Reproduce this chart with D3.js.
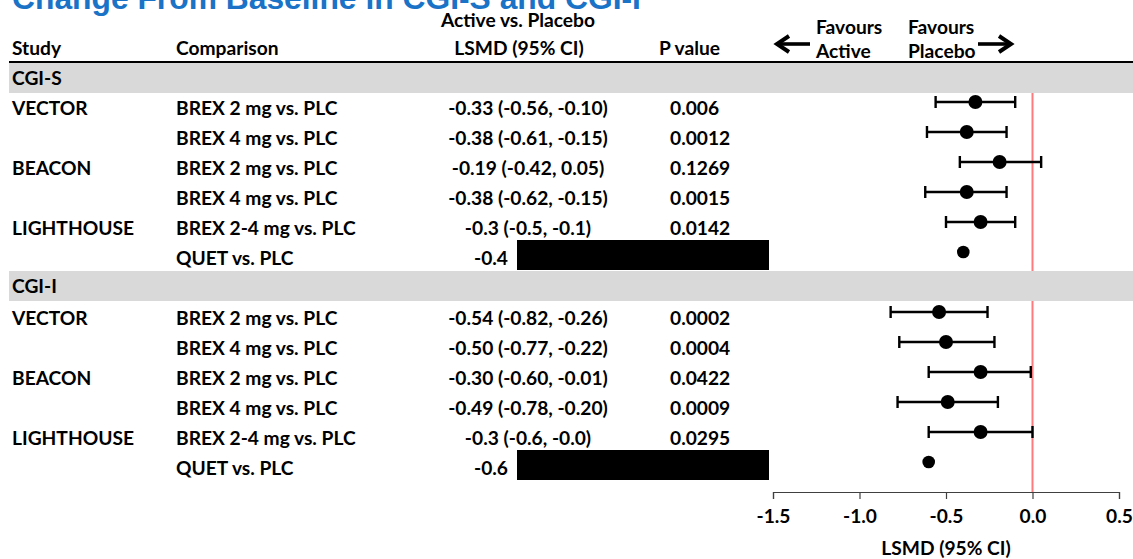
<!DOCTYPE html>
<html>
<head>
<meta charset="utf-8">
<script src="https://cdn.jsdelivr.net/npm/d3@7"></script>
<style>
  html, body { margin: 0; padding: 0; background: #fff; }
  svg { display: block; }
  .t { font-family: Lato, "Open Sans", sans-serif; font-weight: 700; font-size: 19.2px; fill: #000; }
</style>
</head>
<body>
<svg id="chart" width="1133" height="559"></svg>
<script>
// ---------- data ----------
const title = "Change From Baseline in CGI-S and CGI-I";
const sections = ["CGI-S", "CGI-I"];
const studies = ["VECTOR", "", "BEACON", "", "LIGHTHOUSE", ""];
const comparisons = ["BREX 2 mg vs. PLC", "BREX 4 mg vs. PLC", "BREX 2 mg vs. PLC", "BREX 4 mg vs. PLC", "BREX 2-4 mg vs. PLC", "QUET vs. PLC"];

const cgisEst = [-0.33, -0.38, -0.19, -0.38, -0.3, -0.4];
const cgisLo  = [-0.56, -0.61, -0.42, -0.62, -0.5, null];
const cgisHi  = [-0.10, -0.15, 0.05, -0.15, -0.1, null];
const cgisLabel = ["-0.33 (-0.56, -0.10)", "-0.38 (-0.61, -0.15)", "-0.19 (-0.42, 0.05)", "-0.38 (-0.62, -0.15)", "-0.3 (-0.5, -0.1)", "-0.4"];
const cgisP = ["0.006", "0.0012", "0.1269", "0.0015", "0.0142", null];

const cgiiEst = [-0.54, -0.50, -0.30, -0.49, -0.3, -0.6];
const cgiiLo  = [-0.82, -0.77, -0.60, -0.78, -0.6, null];
const cgiiHi  = [-0.26, -0.22, -0.01, -0.20, -0.0, null];
const cgiiLabel = ["-0.54 (-0.82, -0.26)", "-0.50 (-0.77, -0.22)", "-0.30 (-0.60, -0.01)", "-0.49 (-0.78, -0.20)", "-0.3 (-0.6, -0.0)", "-0.6"];
const cgiiP = ["0.0002", "0.0004", "0.0422", "0.0009", "0.0295", null];

const xTicks = [-1.5, -1.0, -0.5, 0.0, 0.5];
const xLabel = "LSMD (95% CI)";

// ---------- build rows ----------
const rows = [];
[[cgisEst, cgisLo, cgisHi, cgisLabel, cgisP], [cgiiEst, cgiiLo, cgiiHi, cgiiLabel, cgiiP]].forEach((s, si) => {
  rows.push({ type: "section", name: sections[si] });
  s[0].forEach((est, i) => {
    rows.push({ type: "row", study: studies[i], comp: comparisons[i], est: est, lo: s[1][i], hi: s[2][i], label: s[3][i], p: s[4][i] });
  });
});

const svg = d3.select("#chart");
const W = 1133;

const x = d3.scaleLinear().domain([-1.5, 0.5]).range([773, 1119]);
const y = d3.scaleLinear().domain([0, rows.length - 1]).range([78, 468]);
const axisY = 492;

// title
svg.append("text")
  .attr("x", 12).attr("y", 9)
  .attr("font-family", "'Liberation Sans', Arial, sans-serif")
  .attr("font-weight", 700).attr("font-size", 31.8)
  .attr("fill", "#1a73c6")
  .text(title);

// headers
const hdr = [
  { t: "Active vs. Placebo", x: 518, y: 27, a: "middle" },
  { t: "Study", x: 12, y: 55, a: "start" },
  { t: "Comparison", x: 176, y: 55, a: "start" },
  { t: "LSMD (95% CI)", x: 519, y: 55, a: "middle" },
  { t: "P value", x: 659, y: 55, a: "start" },
  { t: "Favours", x: 816, y: 34, a: "start" },
  { t: "Active", x: 816, y: 58, a: "start" },
  { t: "Favours", x: 908, y: 34, a: "start" },
  { t: "Placebo", x: 908, y: 58, a: "start" }
];
svg.selectAll("text.hdr").data(hdr).enter().append("text")
  .attr("class", "t hdr")
  .attr("x", d => d.x).attr("y", d => d.y)
  .attr("text-anchor", d => d.a)
  .text(d => d.t);

// arrows
function arrow(x1, x2, yy) {
  const dir = x2 > x1 ? 1 : -1;
  svg.append("line").attr("x1", x1).attr("x2", x2 - dir * 3).attr("y1", yy).attr("y2", yy)
    .attr("stroke", "#000").attr("stroke-width", 3.6);
  svg.append("path")
    .attr("d", `M${x2 - dir * 12},${yy - 8} L${x2},${yy} L${x2 - dir * 12},${yy + 8}`)
    .attr("fill", "none").attr("stroke", "#000").attr("stroke-width", 4)
    .attr("stroke-linejoin", "miter");
}
arrow(810, 777, 44);
arrow(978, 1011, 44);

// red reference line (drawn under the section bands)
svg.append("line")
  .attr("x1", x(0)).attr("x2", x(0))
  .attr("y1", 63).attr("y2", axisY)
  .attr("stroke", "#ff7b7b").attr("stroke-width", 2);

// header rule
svg.append("line").attr("x1", 9).attr("x2", W).attr("y1", 62).attr("y2", 62)
  .attr("stroke", "#000").attr("stroke-width", 2.2);

// section bands
const secRows = rows.map((r, i) => ({ r, i })).filter(d => d.r.type === "section");
svg.selectAll("rect.band").data(secRows).enter().append("rect")
  .attr("x", 9).attr("width", W - 9)
  .attr("y", d => y(d.i) - 15 - (d.i === 0 ? 0 : 2)).attr("height", 30)
  .attr("fill", "#d9d9d9");
svg.selectAll("text.sec").data(secRows).enter().append("text")
  .attr("class", "t sec")
  .attr("x", 12).attr("y", d => y(d.i) + 7 - (d.i === 0 ? 0 : 2))
  .text(d => d.r.name);

// data rows
const dataRows = rows.map((r, i) => ({ r, i })).filter(d => d.r.type === "row");
const g = svg.append("g");
dataRows.forEach(d => {
  const cy = y(d.i);
  const base = cy + 7;
  g.append("text").attr("class", "t").attr("x", 12).attr("y", base).text(d.r.study);
  g.append("text").attr("class", "t").attr("x", 176).attr("y", base).text(d.r.comp);
  if (d.r.p !== null) {
    g.append("text").attr("class", "t").attr("x", 528).attr("y", base).attr("text-anchor", "middle").text(d.r.label);
    g.append("text").attr("class", "t").attr("x", 670).attr("y", base).text(d.r.p);
  } else {
    g.append("text").attr("class", "t").attr("x", 508).attr("y", base).attr("text-anchor", "end").text(d.r.label);
    g.append("rect").attr("x", 517).attr("width", 252).attr("y", cy - 18).attr("height", 30).attr("fill", "#000");
  }
  const py = cy - 6;
  if (d.r.lo !== null) {
    g.append("line").attr("x1", x(d.r.lo)).attr("x2", x(d.r.hi)).attr("y1", py).attr("y2", py)
      .attr("stroke", "#000").attr("stroke-width", 2.4);
    [d.r.lo, d.r.hi].forEach(v => {
      g.append("line").attr("x1", x(v)).attr("x2", x(v)).attr("y1", py - 6).attr("y2", py + 6)
        .attr("stroke", "#000").attr("stroke-width", 2.4);
    });
    g.append("circle").attr("cx", x(d.r.est)).attr("cy", py).attr("r", 7).attr("fill", "#000");
  } else {
    g.append("circle").attr("cx", x(d.r.est)).attr("cy", py).attr("r", 6.3).attr("fill", "#000");
  }
});

// axis
const axis = d3.axisBottom(x).tickValues(xTicks).tickSize(7).tickPadding(10)
  .tickFormat(d => d.toFixed(1));
const ag = svg.append("g").attr("transform", `translate(0,${axisY})`).call(axis);
ag.select(".domain").attr("stroke", "#404040").attr("stroke-width", 1.2);
ag.selectAll(".tick line").attr("stroke", "#404040").attr("stroke-width", 1.2);
ag.selectAll(".tick text").attr("class", "t").attr("dy", null).attr("y", 31).attr("fill", "#000");

svg.append("text").attr("class", "t")
  .attr("x", x(-0.5)).attr("y", 555).attr("text-anchor", "middle")
  .text(xLabel);
</script>
</body>
</html>
